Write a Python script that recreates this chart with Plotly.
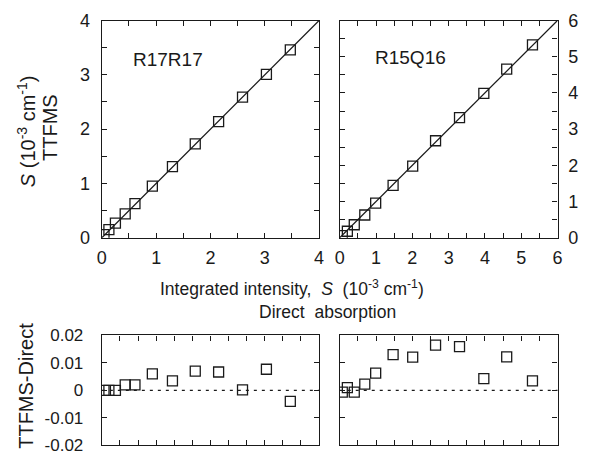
import plotly.graph_objects as go

# ---- data ----
r17_direct = [0.04, 0.13, 0.25, 0.43, 0.61, 0.93, 1.30, 1.72, 2.15, 2.59, 3.03, 3.47]
r17_ttfms = [0.06, 0.15, 0.27, 0.44, 0.63, 0.95, 1.31, 1.73, 2.14, 2.59, 3.01, 3.46]
r17_resid = [0.0, 0.0, 0.0, 0.002, 0.002, 0.006, 0.0035, 0.007, 0.0067, 0.0002, 0.0077, -0.004]

r15_direct = [0.07, 0.21, 0.40, 0.69, 0.99, 1.47, 2.01, 2.64, 3.30, 3.97, 4.60, 5.31]
r15_ttfms = [0.06, 0.18, 0.36, 0.63, 0.96, 1.45, 1.98, 2.68, 3.32, 3.99, 4.66, 5.33]
r15_resid = [-0.0006, 0.001, -0.0006, 0.0023, 0.0063, 0.0130, 0.0121, 0.0165, 0.0159, 0.0043, 0.0122, 0.0035]

diag_left = [0, 4]
diag_right = [0, 6]

top_left_ticks = [0, 0.5, 1, 1.5, 2, 2.5, 3, 3.5, 4]
top_left_labels = ["0", "", "1", "", "2", "", "3", "", "4"]
top_right_ticks = [0, 0.5, 1, 1.5, 2, 2.5, 3, 3.5, 4, 4.5, 5, 5.5, 6]
top_right_labels = ["0", "", "1", "", "2", "", "3", "", "4", "", "5", "", "6"]
bot_left_xticks = [0, 1/3, 2/3, 1, 4/3, 5/3, 2, 7/3, 8/3, 3, 10/3, 11/3, 4]
bot_right_xticks = top_right_ticks
resid_ticks = [-0.02, -0.01, 0, 0.01, 0.02]
resid_labels = ["-0.02", "-0.01", "0", "0.01", "0.02"]

W, H = 592, 466
FONT = "Liberation Sans, Arial, sans-serif"
INK = "#1a1a1a"

def px_x(a, b):
    return [a / W, b / W]

def px_y(top, bottom):
    return [1 - bottom / H, 1 - top / H]

fig = go.Figure()

mk = dict(symbol="square-open", size=10, color=INK, line=dict(width=1.3, color=INK))

fig.add_trace(go.Scatter(x=diag_left, y=diag_left, mode="lines", line=dict(color=INK, width=1.2),
                         xaxis="x", yaxis="y", showlegend=False))
fig.add_trace(go.Scatter(x=r17_direct, y=r17_ttfms, mode="markers", marker=mk,
                         xaxis="x", yaxis="y", showlegend=False))
fig.add_trace(go.Scatter(x=diag_right, y=diag_right, mode="lines", line=dict(color=INK, width=1.2),
                         xaxis="x2", yaxis="y2", showlegend=False))
fig.add_trace(go.Scatter(x=r15_direct, y=r15_ttfms, mode="markers", marker=mk,
                         xaxis="x2", yaxis="y2", showlegend=False))
fig.add_trace(go.Scatter(x=r17_direct, y=r17_resid, mode="markers", marker=mk,
                         xaxis="x3", yaxis="y3", showlegend=False))
fig.add_trace(go.Scatter(x=r15_direct, y=r15_resid, mode="markers", marker=mk,
                         xaxis="x4", yaxis="y4", showlegend=False))

def ax(size=18, standoff=6, **kw):
    d = dict(showline=True, linecolor=INK, linewidth=1.2, mirror="ticks", ticks="inside",
             ticklen=5, tickwidth=1.2, tickcolor=INK, showgrid=False, zeroline=False,
             tickfont=dict(family=FONT, size=size, color=INK), ticklabelstandoff=standoff)
    d.update(kw)
    return d

L = px_x(98.5, 319.5)
R = px_x(340.5, 562)
T = px_y(11, 238)
B = px_y(340, 455)

fig.update_layout(
    width=W, height=H, margin=dict(l=0, r=0, t=0, b=0),
    paper_bgcolor="white", plot_bgcolor="white",
    xaxis=ax(domain=L, anchor="y", range=[0, 4], tickmode="array", tickvals=top_left_ticks,
             ticktext=top_left_labels, standoff=4),
    yaxis=ax(domain=T, anchor="x", range=[0, 4], tickmode="array", tickvals=top_left_ticks,
             ticktext=top_left_labels, standoff=7),
    xaxis2=ax(domain=R, anchor="y2", range=[0, 6], tickmode="array", tickvals=top_right_ticks,
              ticktext=top_right_labels, standoff=4),
    yaxis2=ax(domain=T, anchor="x2", range=[0, 6], side="right", tickmode="array",
              tickvals=top_right_ticks, ticktext=top_right_labels, standoff=6),
    xaxis3=ax(domain=L, anchor="y3", range=[0, 4], tickmode="array", tickvals=bot_left_xticks,
              showticklabels=False),
    yaxis3=ax(size=17, standoff=14, domain=B, anchor="x3", range=[-0.02, 0.02], tickmode="array",
              tickvals=resid_ticks, ticktext=resid_labels),
    xaxis4=ax(domain=R, anchor="y4", range=[0, 6], tickmode="array", tickvals=bot_right_xticks,
              showticklabels=False),
    yaxis4=ax(domain=B, anchor="x4", range=[-0.02, 0.02], tickmode="array", tickvals=resid_ticks,
              showticklabels=False),
)

# dotted zero lines in residual panels
fig.add_shape(type="line", xref="x3 domain", yref="y3", x0=0, x1=1, y0=0, y1=0,
              line=dict(color=INK, width=1.2, dash="3px,5px"))
fig.add_shape(type="line", xref="x4 domain", yref="y4", x0=0, x1=1, y0=0, y1=0,
              line=dict(color=INK, width=1.2, dash="3px,5px"))

tf = dict(family=FONT, size=17.5, color=INK)
lf = dict(family=FONT, size=19, color=INK)
rf = dict(family=FONT, size=20, color=INK)
ann = [
    dict(text="R17R17", x=166 / W, y=1 - 52 / H, font=lf),
    dict(text="R15Q16", x=412 / W, y=1 - 50 / H, font=lf),
    dict(text="Integrated intensity,  <i>S</i>  (10<sup>-3</sup> cm<sup>-1</sup>)", x=292 / W, y=1 - 290 / H),
    dict(text="Direct  absorption", x=328 / W, y=1 - 316 / H),
    dict(text="<i>S</i> (10<sup>-3</sup> cm<sup>-1</sup>)", x=22 / W, y=1 - 127 / H, textangle=-90, font=rf),
    dict(text="TTFMS", x=45 / W, y=1 - 123 / H, textangle=-90, font=rf),
    dict(text="TTFMS-Direct", x=21 / W, y=1 - 393 / H, textangle=-90, font=rf),
]
for a in ann:
    a.setdefault("font", tf)
    fig.add_annotation(xref="paper", yref="paper", showarrow=False, xanchor="center", yanchor="middle", **a)

fig.write_html("out.html")
